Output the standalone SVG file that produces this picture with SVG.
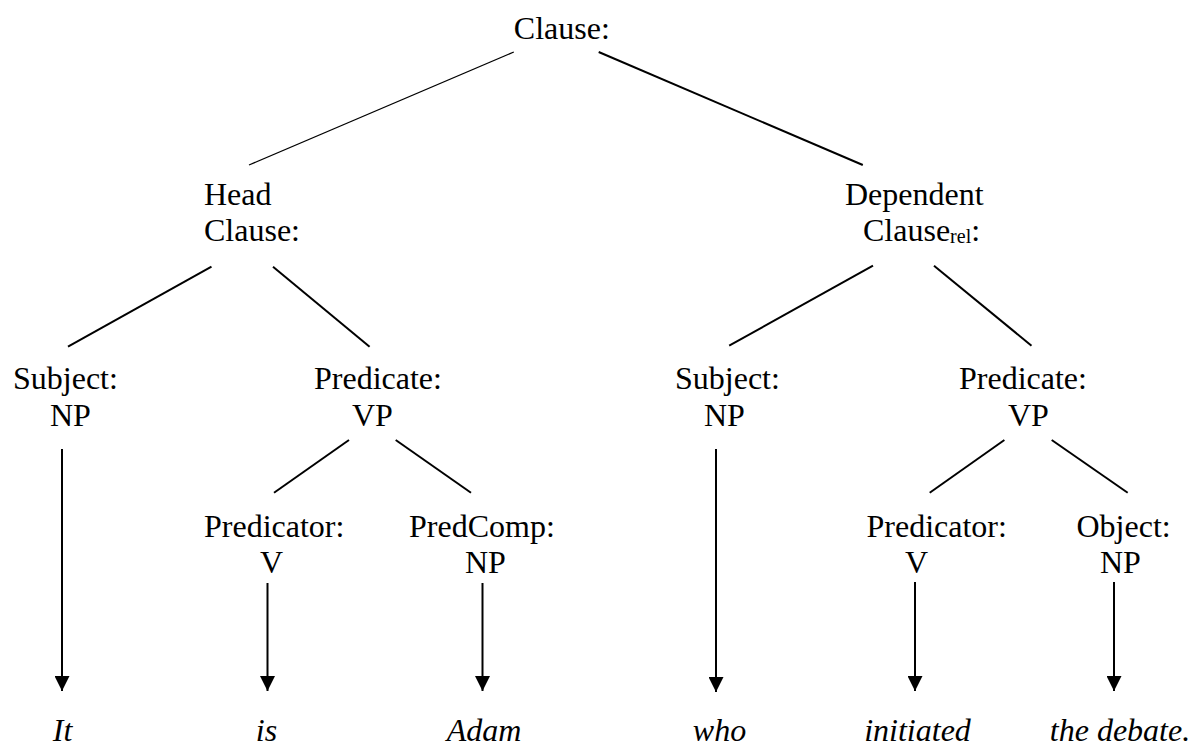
<svg xmlns="http://www.w3.org/2000/svg" width="1191" height="747" viewBox="0 0 1191 747">
<style>
text{font-family:"Liberation Serif","Times New Roman",serif;font-size:32px;fill:#000}
.w{font-style:italic;text-anchor:middle}
.e{stroke:#000;stroke-width:2;fill:none}
.t{stroke-width:1.2}
.a{stroke:#000;stroke-width:2;fill:none;marker-end:url(#ah)}
</style>
<defs>
<marker id="ah" markerUnits="userSpaceOnUse" markerWidth="15" markerHeight="15" refX="15" refY="7.5" orient="auto" viewBox="0 0 15 15">
<path d="M0,0 L15,7.5 L0,15 z" fill="#000"/>
</marker>
</defs>
<rect width="1191" height="747" fill="#fff"/>
<g id="connectors">
<line class="e t" x1="513.8" y1="52" x2="249" y2="165"/>
<line class="e" x1="598.7" y1="52" x2="862.8" y2="165"/>
<line class="e" x1="211.5" y1="266.7" x2="68" y2="346.7"/>
<line class="e" x1="273" y1="266.7" x2="369.6" y2="346.7"/>
<line class="e" x1="873" y1="265.7" x2="729.2" y2="345.7"/>
<line class="e" x1="934" y1="265.7" x2="1031.5" y2="345.7"/>
<line class="e" x1="349" y1="440" x2="274" y2="492.7"/>
<line class="e" x1="395.7" y1="440" x2="471" y2="492.7"/>
<line class="e" x1="1004.4" y1="440" x2="929.7" y2="492.7"/>
<line class="e" x1="1051.7" y1="440" x2="1127.7" y2="492.7"/>
<line class="a" x1="62" y1="449" x2="62" y2="691"/>
<line class="a" x1="267.5" y1="583" x2="267.5" y2="691"/>
<line class="a" x1="482.5" y1="583" x2="482.5" y2="691"/>
<line class="a" x1="716" y1="449" x2="716" y2="692"/>
<line class="a" x1="915" y1="582" x2="915" y2="691"/>
<line class="a" x1="1114" y1="582" x2="1114" y2="691"/>
</g>
<g id="clause"><text x="513.8" y="39">Clause:</text></g>
<g id="head-clause"><text x="204" y="205">Head</text><text x="204" y="241">Clause:</text></g>
<g id="dependent-clause"><text x="845" y="205">Dependent</text><text x="863" y="241">Clause<tspan font-size="20" dy="2">rel</tspan><tspan dy="-2">:</tspan></text></g>
<g id="subject-1"><text x="13" y="389">Subject:</text><text x="50" y="426">NP</text></g>
<g id="predicate-1"><text x="314" y="389">Predicate:</text><text x="352" y="426">VP</text></g>
<g id="predicator-1"><text x="204" y="537">Predicator:</text><text x="260" y="573">V</text></g>
<g id="predcomp"><text x="409" y="537">PredComp:</text><text x="465" y="573">NP</text></g>
<g id="subject-2"><text x="675" y="389">Subject:</text><text x="704" y="426">NP</text></g>
<g id="predicate-2"><text x="959" y="389">Predicate:</text><text x="1008" y="426">VP</text></g>
<g id="predicator-2"><text x="866.5" y="537">Predicator:</text><text x="905" y="573">V</text></g>
<g id="object"><text x="1076.5" y="537">Object:</text><text x="1100" y="573">NP</text></g>
<g id="word-it"><text class="w" x="62.5" y="741">It</text></g>
<g id="word-is"><text class="w" x="266.5" y="741">is</text></g>
<g id="word-adam"><text class="w" x="484" y="741">Adam</text></g>
<g id="word-who"><text class="w" x="719.5" y="741">who</text></g>
<g id="word-initiated"><text class="w" x="917.5" y="741">initiated</text></g>
<g id="word-debate"><text class="w" x="1120" y="741">the debate.</text></g>
</svg>
